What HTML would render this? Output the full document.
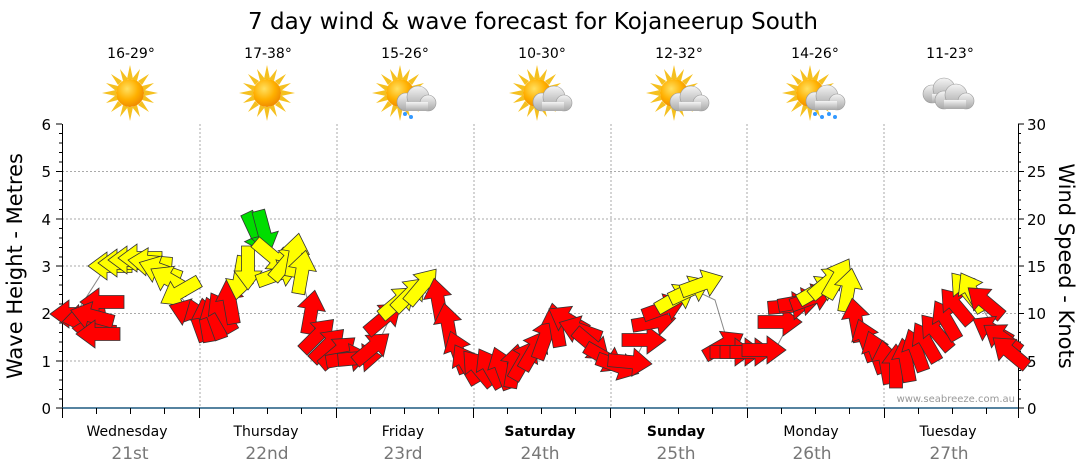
<!DOCTYPE html>
<html><head><meta charset="utf-8"><style>
body{margin:0;background:#fff;}
svg{display:block;font-family:"DejaVu Sans","Liberation Sans",sans-serif;}
</style></head><body>
<svg width="1080" height="475" viewBox="0 0 1080 475" xmlns="http://www.w3.org/2000/svg">
<defs>
<radialGradient id="sg" cx="40%" cy="35%" r="65%"><stop offset="0" stop-color="#ffe060"/><stop offset="0.6" stop-color="#ffb000"/><stop offset="1" stop-color="#f08c00"/></radialGradient>
<linearGradient id="cg" x1="0" y1="0" x2="0" y2="1"><stop offset="0" stop-color="#f4f4f4"/><stop offset="1" stop-color="#a8a8a8"/></linearGradient>
<g id="sun">
<g fill="#f5c020">
<polygon points="0,-28 3,-14 -3,-14"/><polygon points="0,28 3,14 -3,14"/><polygon points="-28,0 -14,3 -14,-3"/><polygon points="28,0 14,3 14,-3"/>
<polygon points="-19,-19 -8,-12 -12,-8"/><polygon points="19,19 8,12 12,8"/><polygon points="19,-19 12,-8 8,-12"/><polygon points="-19,19 -12,8 -8,12"/>
<polygon points="-10,-24 -2,-14 -7,-12"/><polygon points="10,24 2,14 7,12"/><polygon points="24,-10 14,-2 12,-7"/><polygon points="-24,10 -14,2 -12,7"/>
<polygon points="10,-24 7,-12 2,-14"/><polygon points="-10,24 -7,12 -2,14"/><polygon points="24,10 12,7 14,2"/><polygon points="-24,-10 -12,-7 -14,-2"/>
</g>
<circle r="14" fill="url(#sg)"/>
</g>
<g id="cloud" fill="url(#cg)" stroke="#999" stroke-width="0.6">
<circle cx="-8" cy="4" r="9"/><circle cx="4" cy="-1" r="11"/><circle cx="14" cy="5" r="8"/><rect x="-8" y="4" width="22" height="9" stroke="none"/>
</g>
<polygon id="ar" points="-22,-6.5 3,-6.5 3,-14 22,0 3,14 3,6.5 -22,6.5" stroke="#333" stroke-width="0.8" stroke-linejoin="miter"/>
</defs>

<text x="533" y="29" font-size="23" text-anchor="middle" fill="#000">7 day wind &amp; wave forecast for Kojaneerup South</text>

<g font-size="14" text-anchor="middle" fill="#000">
<text x="131" y="58">16-29°</text><text x="268" y="58">17-38°</text><text x="405" y="58">15-26°</text><text x="542" y="58">10-30°</text><text x="679" y="58">12-32°</text><text x="815" y="58">14-26°</text><text x="950" y="58">11-23°</text>
</g>
<use href="#sun" x="130" y="93"/>
<use href="#sun" x="267" y="93"/>
<use href="#sun" x="400" y="93"/><use href="#cloud" x="414" y="98"/>
<g fill="#3399ff"><circle cx="405" cy="114" r="2"/><circle cx="411" cy="117" r="2"/></g>
<use href="#sun" x="537" y="93"/><use href="#cloud" x="550" y="98"/>
<use href="#sun" x="674" y="93"/><use href="#cloud" x="687" y="98"/>
<use href="#sun" x="810" y="93"/><use href="#cloud" x="823" y="97"/>
<g fill="#3399ff"><circle cx="815" cy="114" r="2"/><circle cx="822" cy="117" r="2"/><circle cx="829" cy="114" r="2"/><circle cx="835" cy="117" r="2"/></g>
<use href="#cloud" x="940" y="90"/><use href="#cloud" x="952" y="96"/>

<g stroke="#aaa" stroke-width="1" stroke-dasharray="2,2">
<line x1="62" x2="1018" y1="361" y2="361"/><line x1="62" x2="1018" y1="313.5" y2="313.5"/><line x1="62" x2="1018" y1="266" y2="266"/><line x1="62" x2="1018" y1="219" y2="219"/><line x1="62" x2="1018" y1="171.5" y2="171.5"/>
<line x1="200" x2="200" y1="124" y2="408"/><line x1="337" x2="337" y1="124" y2="408"/><line x1="474" x2="474" y1="124" y2="408"/><line x1="611" x2="611" y1="124" y2="408"/><line x1="747" x2="747" y1="124" y2="408"/><line x1="884" x2="884" y1="124" y2="408"/>
</g>
<g stroke="#000" stroke-width="1">
<line x1="62.5" x2="62.5" y1="124" y2="408"/>
<line x1="1018.5" x2="1018.5" y1="124" y2="408"/>
</g>
<line x1="62" x2="1018" y1="408" y2="408" stroke="#1f5a80" stroke-width="1.5"/>
<g stroke="#000" stroke-width="1">
<path d="M56 124H62M56 171.5H62M56 219H62M56 266H62M56 313.5H62M56 361H62M56 408H62"/>
<path d="M59 133.5H62M59 143H62M59 152.5H62M59 162H62M59 181H62M59 190.5H62M59 200H62M59 209.5H62M59 228.5H62M59 238H62M59 247.5H62M59 257H62M59 275.5H62M59 285H62M59 294.5H62M59 304H62M59 323H62M59 332.5H62M59 342H62M59 351.5H62M59 370.5H62M59 380H62M59 389.5H62M59 399H62"/>
<path d="M1018 124H1024M1018 171.5H1024M1018 219H1024M1018 266H1024M1018 313.5H1024M1018 361H1024M1018 408H1024"/>
<path d="M1018 133.5H1021M1018 143H1021M1018 152.5H1021M1018 162H1021M1018 181H1021M1018 190.5H1021M1018 200H1021M1018 209.5H1021M1018 228.5H1021M1018 238H1021M1018 247.5H1021M1018 257H1021M1018 275.5H1021M1018 285H1021M1018 294.5H1021M1018 304H1021M1018 323H1021M1018 332.5H1021M1018 342H1021M1018 351.5H1021M1018 370.5H1021M1018 380H1021M1018 389.5H1021M1018 399H1021"/>
<path d="M62.5 408V418M199.5 408V418M336.5 408V418M473.5 408V418M610.5 408V418M747.5 408V418M884.5 408V418M1018.5 408V418"/>
<path d="M96.5 408V414M130.5 408V414M164.5 408V414M233.5 408V414M267.5 408V414M301.5 408V414M370.5 408V414M404.5 408V414M438.5 408V414M507.5 408V414M541.5 408V414M575.5 408V414M644.5 408V414M678.5 408V414M712.5 408V414M781.5 408V414M815.5 408V414M849.5 408V414M918.5 408V414M952.5 408V414M986.5 408V414"/>
</g>
<g font-size="15" fill="#000">
<g text-anchor="end"><text x="51" y="130">6</text><text x="51" y="177">5</text><text x="51" y="225">4</text><text x="51" y="272">3</text><text x="51" y="319">2</text><text x="51" y="367">1</text><text x="51" y="414">0</text></g>
<g><text x="1027" y="130">30</text><text x="1027" y="177">25</text><text x="1027" y="225">20</text><text x="1027" y="272">15</text><text x="1027" y="319">10</text><text x="1027" y="367">5</text><text x="1027" y="414">0</text></g>
</g>
<text transform="translate(22,266) rotate(-90)" font-size="21" text-anchor="middle">Wave Height - Metres</text>
<text transform="translate(1059,266) rotate(90)" font-size="21" text-anchor="middle">Wind Speed - Knots</text>
<g font-size="14" text-anchor="middle" fill="#000">
<text x="127" y="436">Wednesday</text><text x="266" y="436">Thursday</text><text x="403" y="436">Friday</text><text x="540" y="436" font-weight="bold">Saturday</text><text x="676" y="436" font-weight="bold">Sunday</text><text x="811" y="436">Monday</text><text x="948" y="436">Tuesday</text>
</g>
<g font-size="17" text-anchor="middle" fill="#777">
<text x="130" y="459">21st</text><text x="267" y="459">22nd</text><text x="403" y="459">23rd</text><text x="540" y="459">24th</text><text x="676" y="459">25th</text><text x="812" y="459">26th</text><text x="949" y="459">27th</text>
</g>
<text x="1015" y="402" font-size="10" fill="#999" text-anchor="end">www.seabreeze.com.au</text>

<polyline fill="none" stroke="#888" stroke-width="1" points="75,315 105,268 150,262 175,290 200,320 230,300 250,262 258,232 285,262 300,270 310,310 330,345 350,360 375,350 390,318 420,288 440,305 455,340 475,368 500,366 530,360 555,328 580,330 610,360 635,360 650,330 690,288 715,300 730,350 775,350 790,322 840,278 850,290 860,330 895,370 935,335 965,290 980,305 1015,360"/>

<g>
<g fill="#ff0000">
<use href="#ar" transform="translate(72,314) rotate(180)"/>
<use href="#ar" transform="translate(84,318) rotate(170)"/>
<use href="#ar" transform="translate(94,330) rotate(185)"/>
<use href="#ar" transform="translate(102,302) rotate(180)"/>
<use href="#ar" transform="translate(92,316) rotate(195)"/>
<use href="#ar" transform="translate(98,334) rotate(180)"/>
</g>
<g fill="#ffff00">
<use href="#ar" transform="translate(110,266) rotate(180)"/>
<use href="#ar" transform="translate(120,263) rotate(180)"/>
<use href="#ar" transform="translate(130,260) rotate(180)"/>
<use href="#ar" transform="translate(140,258) rotate(180)"/>
<use href="#ar" transform="translate(150,262) rotate(185)"/>
<use href="#ar" transform="translate(160,270) rotate(200)"/>
<use href="#ar" transform="translate(170,280) rotate(210)"/>
<use href="#ar" transform="translate(180,292) rotate(150)"/>
</g>
<g fill="#ff0000">
<use href="#ar" transform="translate(190,313) rotate(200)"/>
<use href="#ar" transform="translate(198,320) rotate(-110)"/>
<use href="#ar" transform="translate(206,320) rotate(-100)"/>
<use href="#ar" transform="translate(214,318) rotate(-110)"/>
<use href="#ar" transform="translate(222,312) rotate(-120)"/>
<use href="#ar" transform="translate(230,302) rotate(-100)"/>
</g>
<g fill="#ffff00">
<use href="#ar" transform="translate(240,278) rotate(100)"/>
<use href="#ar" transform="translate(248,268) rotate(90)"/>
</g>
<g fill="#00dd00">
<use href="#ar" transform="translate(256,233) rotate(65)"/>
<use href="#ar" transform="translate(264,232) rotate(75)"/>
</g>
<g fill="#ffff00">
<use href="#ar" transform="translate(272,256) rotate(40)"/>
<use href="#ar" transform="translate(278,274) rotate(-20)"/>
<use href="#ar" transform="translate(287,262) rotate(-50)"/>
<use href="#ar" transform="translate(295,255) rotate(-80)"/>
<use href="#ar" transform="translate(302,272) rotate(-80)"/>
</g>
<g fill="#ff0000">
<use href="#ar" transform="translate(311,312) rotate(-80)"/>
<use href="#ar" transform="translate(318,335) rotate(-45)"/>
<use href="#ar" transform="translate(328,345) rotate(-45)"/>
<use href="#ar" transform="translate(338,352) rotate(-40)"/>
<use href="#ar" transform="translate(348,358) rotate(-10)"/>
<use href="#ar" transform="translate(360,358) rotate(-5)"/>
<use href="#ar" transform="translate(372,348) rotate(-40)"/>
<use href="#ar" transform="translate(384,318) rotate(-40)"/>
</g>
<g fill="#ffff00">
<use href="#ar" transform="translate(398,302) rotate(-40)"/>
<use href="#ar" transform="translate(410,294) rotate(-45)"/>
<use href="#ar" transform="translate(422,286) rotate(-50)"/>
</g>
<g fill="#ff0000">
<use href="#ar" transform="translate(438,300) rotate(-100)"/>
<use href="#ar" transform="translate(448,325) rotate(-100)"/>
<use href="#ar" transform="translate(458,352) rotate(-110)"/>
<use href="#ar" transform="translate(466,364) rotate(-120)"/>
<use href="#ar" transform="translate(478,368) rotate(-130)"/>
<use href="#ar" transform="translate(490,368) rotate(-120)"/>
<use href="#ar" transform="translate(502,368) rotate(-110)"/>
<use href="#ar" transform="translate(514,366) rotate(-80)"/>
<use href="#ar" transform="translate(524,360) rotate(-60)"/>
<use href="#ar" transform="translate(534,350) rotate(-60)"/>
<use href="#ar" transform="translate(545,338) rotate(-70)"/>
<use href="#ar" transform="translate(556,325) rotate(-100)"/>
<use href="#ar" transform="translate(568,320) rotate(-150)"/>
<use href="#ar" transform="translate(580,330) rotate(-160)"/>
<use href="#ar" transform="translate(592,345) rotate(40)"/>
<use href="#ar" transform="translate(605,358) rotate(30)"/>
<use href="#ar" transform="translate(618,366) rotate(20)"/>
<use href="#ar" transform="translate(630,362) rotate(5)"/>
<use href="#ar" transform="translate(644,340) rotate(0)"/>
<use href="#ar" transform="translate(654,322) rotate(-10)"/>
<use href="#ar" transform="translate(664,308) rotate(-20)"/>
</g>
<g fill="#ffff00">
<use href="#ar" transform="translate(676,298) rotate(-30)"/>
<use href="#ar" transform="translate(690,290) rotate(-25)"/>
<use href="#ar" transform="translate(702,284) rotate(-20)"/>
</g>
<g fill="#ff0000">
<use href="#ar" transform="translate(724,345) rotate(-30)"/>
<use href="#ar" transform="translate(732,352) rotate(0)"/>
<use href="#ar" transform="translate(742,352) rotate(0)"/>
<use href="#ar" transform="translate(752,352) rotate(0)"/>
<use href="#ar" transform="translate(764,350) rotate(0)"/>
<use href="#ar" transform="translate(780,322) rotate(0)"/>
<use href="#ar" transform="translate(790,306) rotate(-5)"/>
<use href="#ar" transform="translate(800,302) rotate(-10)"/>
<use href="#ar" transform="translate(812,298) rotate(-20)"/>
</g>
<g fill="#ffff00">
<use href="#ar" transform="translate(818,290) rotate(-30)"/>
<use href="#ar" transform="translate(828,282) rotate(-40)"/>
<use href="#ar" transform="translate(838,278) rotate(-60)"/>
<use href="#ar" transform="translate(848,290) rotate(-80)"/>
</g>
<g fill="#ff0000">
<use href="#ar" transform="translate(856,320) rotate(-100)"/>
<use href="#ar" transform="translate(866,340) rotate(-110)"/>
<use href="#ar" transform="translate(876,352) rotate(-110)"/>
<use href="#ar" transform="translate(886,362) rotate(-100)"/>
<use href="#ar" transform="translate(896,366) rotate(-90)"/>
<use href="#ar" transform="translate(906,360) rotate(-100)"/>
<use href="#ar" transform="translate(916,350) rotate(-110)"/>
<use href="#ar" transform="translate(926,342) rotate(-120)"/>
<use href="#ar" transform="translate(936,332) rotate(-130)"/>
<use href="#ar" transform="translate(946,320) rotate(-120)"/>
<use href="#ar" transform="translate(956,306) rotate(-130)"/>
</g>
<g fill="#ffff00">
<use href="#ar" transform="translate(966,290) rotate(-130)"/>
<use href="#ar" transform="translate(972,292) rotate(-120)"/>
</g>
<g fill="#ff0000">
<use href="#ar" transform="translate(985,302) rotate(-140)"/>
<use href="#ar" transform="translate(992,330) rotate(-150)"/>
<use href="#ar" transform="translate(1002,338) rotate(-145)"/>
<use href="#ar" transform="translate(1010,352) rotate(-140)"/>
</g>
</g>
</svg>
</body></html>
